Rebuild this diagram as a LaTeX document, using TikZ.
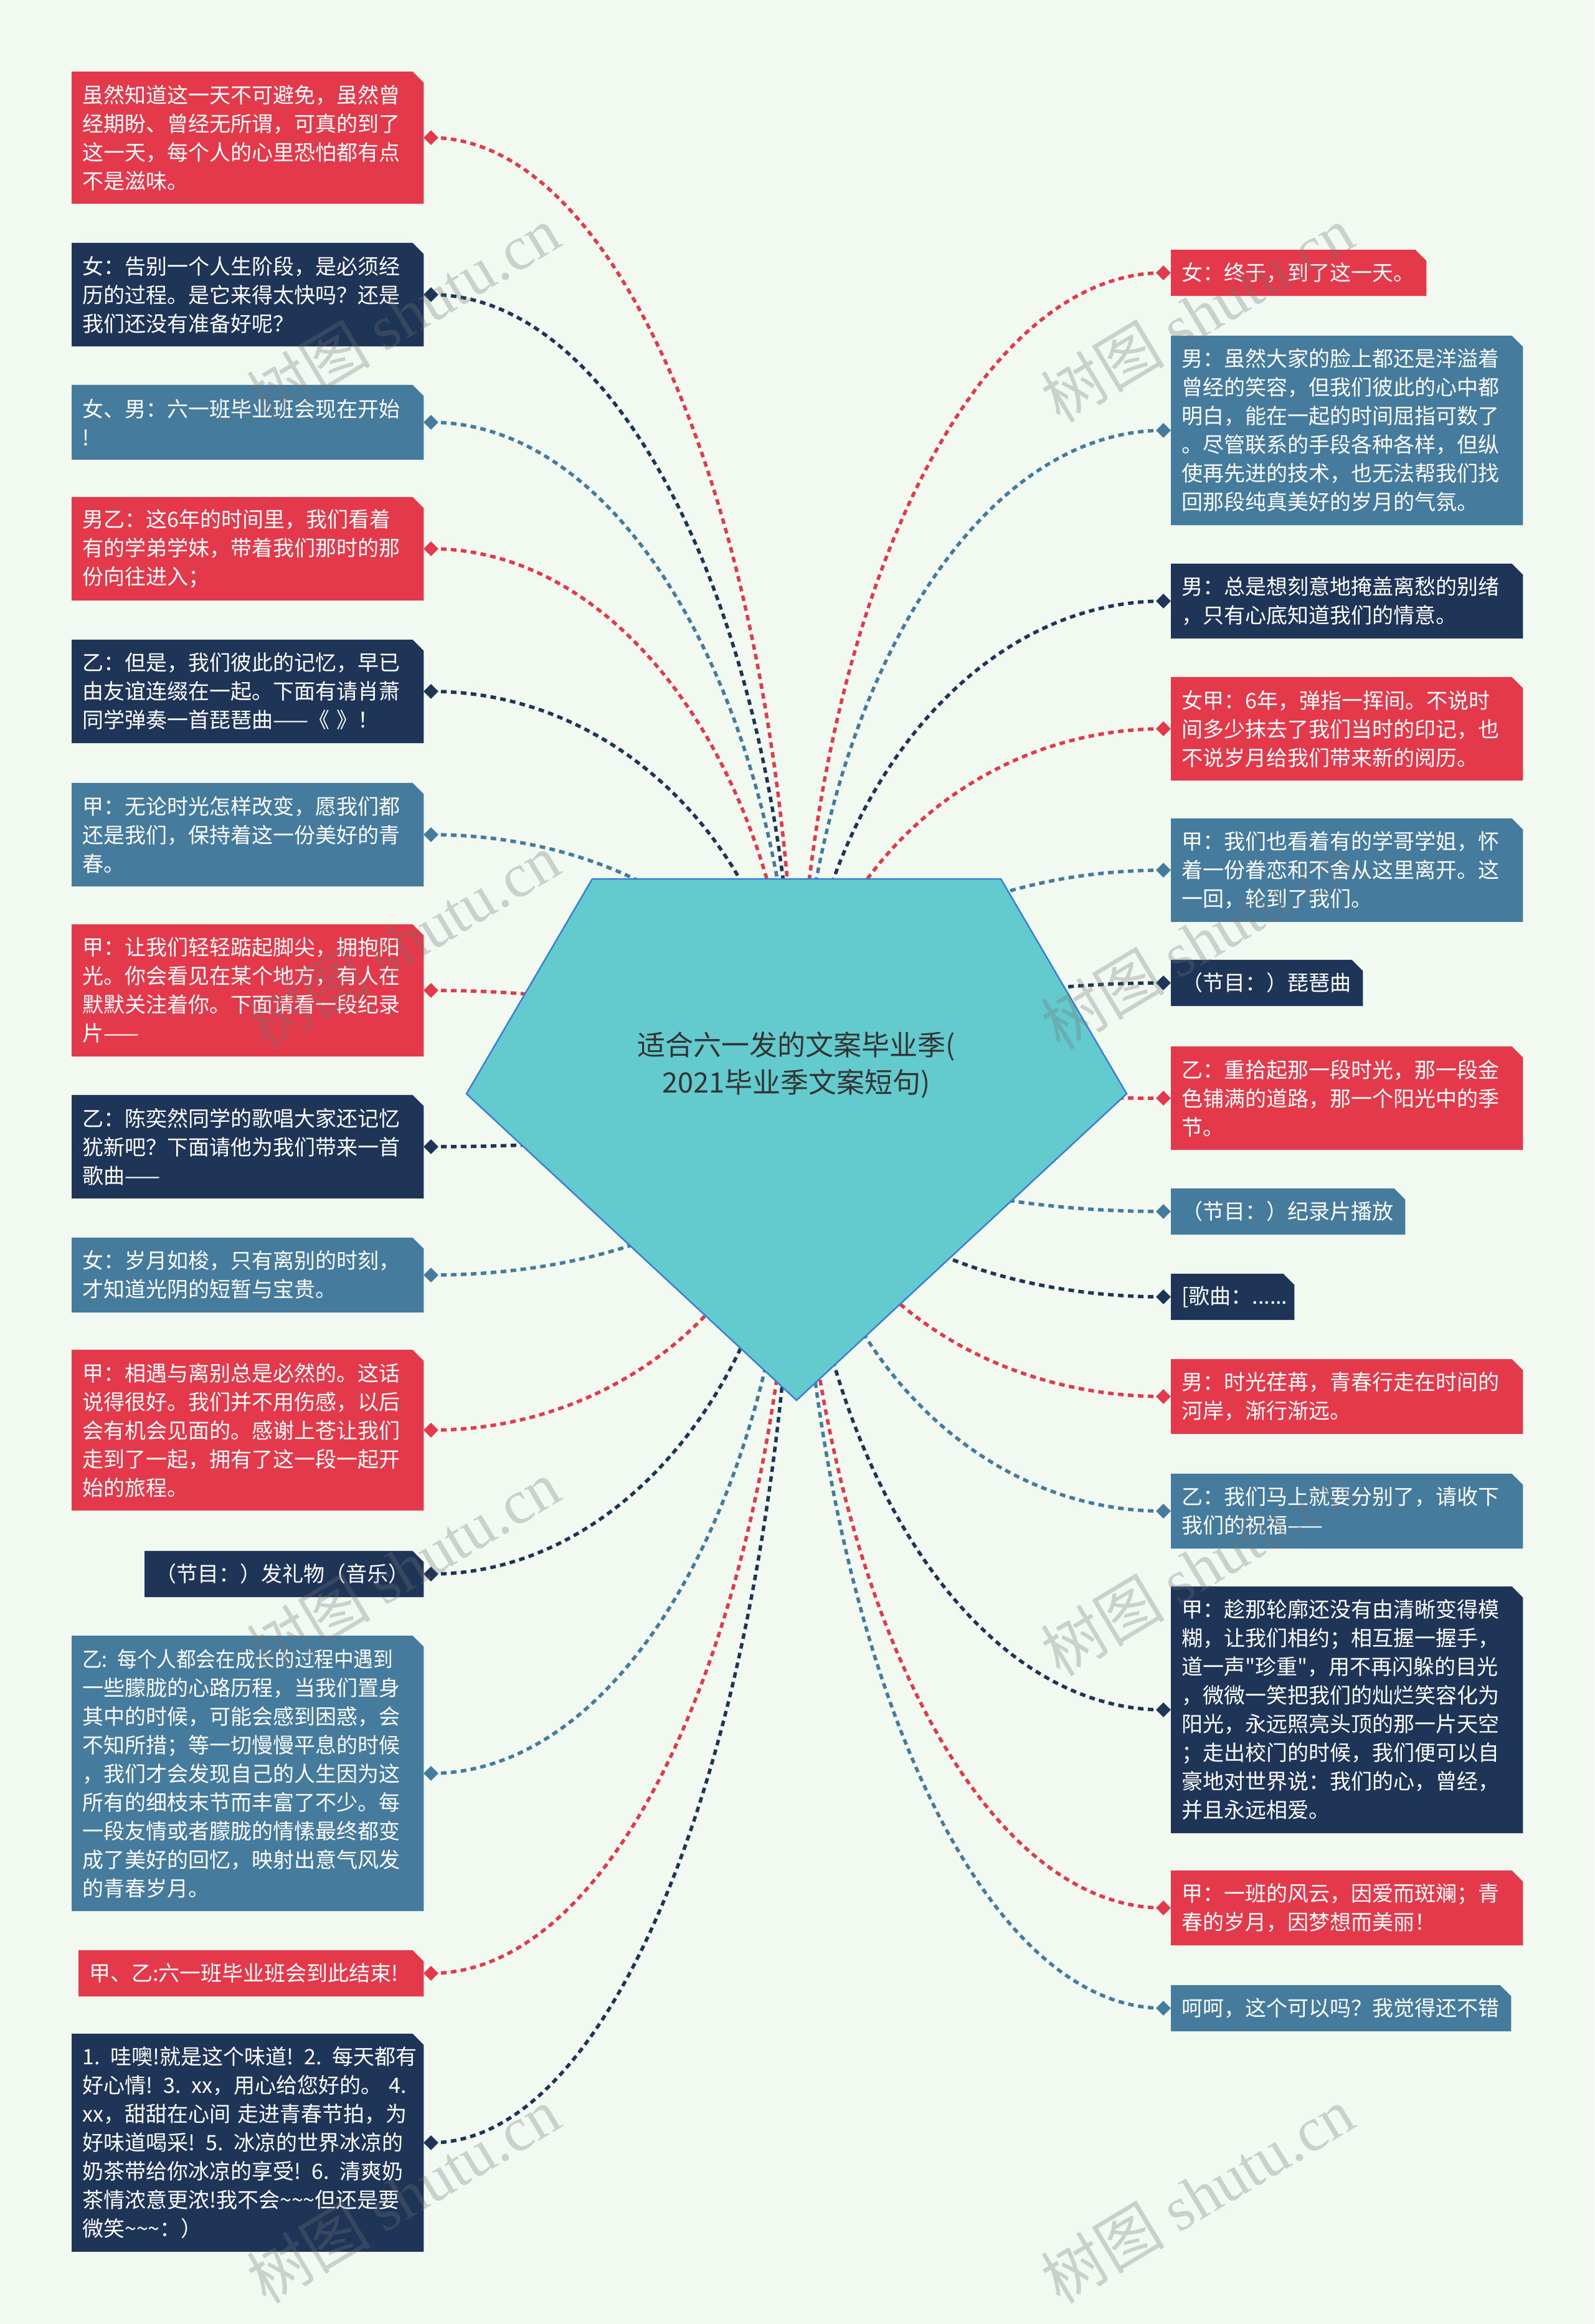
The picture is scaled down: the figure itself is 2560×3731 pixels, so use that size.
\documentclass[tikz,border=0pt]{standalone}
\usepackage{fontspec}
\setmainfont{Noto Sans CJK SC}
\newfontfamily\qfont{Noto Sans CJK SC}
\newfontfamily\wmserif{Liberation Serif}
\usepackage{graphicx}
\usetikzlibrary{shapes.geometric,calc}
\pgfdeclarelayer{bg}
\pgfdeclarelayer{boxes}
\pgfdeclarelayer{fg}
\pgfsetlayers{bg,boxes,main,fg}
\definecolor{cred}{HTML}{E4394A}
\definecolor{cnavy}{HTML}{1E3557}
\definecolor{csteel}{HTML}{457B9D}
\definecolor{cteal}{HTML}{63CACD}
\definecolor{cedge}{HTML}{3A7FD5}
\definecolor{cbg}{HTML}{F1F9F1}
\definecolor{ctitle}{HTML}{333333}
% #1 name, #2 x left, #3 center y, #4 width, #5 lines, #6 colour, #7 diamond x, #8 text
\newcommand{\tbox}[8]{%
  \node[tb, text width=\the\numexpr#4-34\relax pt, minimum height=\the\numexpr46*#5+28\relax pt, anchor=west] (#1) at (#2,#3) {#8};
  \begin{pgfonlayer}{boxes}
    \fill[#6] (#1.south west) -- (#1.north west) -- ([xshift=-18pt]#1.north east) -- ([yshift=-18pt]#1.north east) -- (#1.south east) -- cycle;
  \end{pgfonlayer}
  \node[dmd, fill=#6] (d#1) at (#7,#3) {};
}
\newcommand{\conn}[2]{%
  \coordinate (k#1) at (d#1 -| rc);
  \draw[conn, #2] (d#1.center) .. controls ($(d#1.center)!0.55!(k#1)$) and ($(rc)!0.55!(k#1)$) .. (rc);
}
\newcommand{\tld}{\textasciitilde}
\newcommand{\sq}{{\qfont"}}
\begin{document}
\begin{tikzpicture}[x=1pt,y=-1pt,
  tb/.style={inner xsep=17pt, inner ysep=0pt, align=left, text=white, font=\fontsize{34}{46}\selectfont},
  dmd/.style={diamond, inner sep=0pt, minimum width=24pt, minimum height=24pt},
  conn/.style={line width=5.5pt, dash pattern=on 9pt off 7pt},
  wm/.style={rotate=31, text=black!55, opacity=0.3, font=\fontsize{100}{100}\selectfont, inner sep=0pt},
  roottext/.style={align=center, text=ctitle, font=\fontsize{45}{60}\selectfont}
]
\begin{pgfonlayer}{bg}
\fill[cbg] (0,0) rectangle (2560,3731);
\end{pgfonlayer}
\useasboundingbox (0,0) rectangle (2560,3731);
\coordinate (rc) at (1279,1756);

% left side
\tbox{L1}{115}{221}{565}{4}{cred}{692}{虽然知道这一天不可避免，虽然曾\\经期盼、曾经无所谓，可真的到了\\这一天，每个人的心里恐怕都有点\\不是滋味。}
\tbox{L2}{115}{473}{565}{3}{cnavy}{692}{女：告别一个人生阶段，是必须经\\历的过程。是它来得太快吗？还是\\我们还没有准备好呢？}
\tbox{L3}{115}{678}{565}{2}{csteel}{692}{女、男：六一班毕业班会现在开始\\!}
\tbox{L4}{115}{881}{565}{3}{cred}{692}{男乙：这6年的时间里，我们看着\\有的学弟学妹，带着我们那时的那\\份向往进入；}
\tbox{L5}{115}{1110}{565}{3}{cnavy}{692}{乙：但是，我们彼此的记忆，早已\\由友谊连缀在一起。下面有请肖萧\\同学弹奏一首琵琶曲——《 》！}
\tbox{L6}{115}{1340}{565}{3}{csteel}{692}{甲：无论时光怎样改变，愿我们都\\还是我们，保持着这一份美好的青\\春。}
\tbox{L7}{115}{1590}{565}{4}{cred}{692}{甲：让我们轻轻踮起脚尖，拥抱阳\\光。你会看见在某个地方，有人在\\默默关注着你。下面请看一段纪录\\片——}
\tbox{L8}{115}{1841}{565}{3}{cnavy}{692}{乙：陈奕然同学的歌唱大家还记忆\\犹新吧？下面请他为我们带来一首\\歌曲——}
\tbox{L9}{115}{2047}{565}{2}{csteel}{692}{女：岁月如梭，只有离别的时刻，\\才知道光阴的短暂与宝贵。}
\tbox{L10}{115}{2296}{565}{5}{cred}{692}{甲：相遇与离别总是必然的。这话\\说得很好。我们并不用伤感，以后\\会有机会见面的。感谢上苍让我们\\走到了一起，拥有了这一段一起开\\始的旅程。}
\tbox{L11}{232}{2527}{448}{1}{cnavy}{692}{（节目：）发礼物（音乐）}
\tbox{L12}{115}{2847}{565}{9}{csteel}{692}{\scalebox{0.93}[1]{乙: 每个人都会在成长的过程中遇到}\\一些朦胧的心路历程，当我们置身\\其中的时候，可能会感到困惑，会\\不知所措；等一切慢慢平息的时候\\，我们才会发现自己的人生因为这\\所有的细枝末节而丰富了不少。每\\一段友情或者朦胧的情愫最终都变\\成了美好的回忆，映射出意气风发\\的青春岁月。}
\tbox{L13}{126}{3168}{554}{1}{cred}{692}{\mbox{甲、乙:六一班毕业班会到此结束!}}
\tbox{L14}{115}{3440}{565}{7}{cnavy}{692}{\mbox{1. 哇噢!就是这个味道! 2. 每天都有}\\\mbox{好心情! 3. xx，用心给您好的。 4.}\\\mbox{xx，甜甜在心间 走进青春节拍，为}\\\mbox{好味道喝采! 5. 冰凉的世界冰凉的}\\\mbox{奶茶带给你冰凉的享受! 6. 清爽奶}\\\mbox{茶情浓意更浓!我不会\tld\tld\tld 但还是要}\\微笑\tld\tld\tld：）}

% right side
\tbox{R1}{1880}{438}{410}{1}{cred}{1868}{女：终于，到了这一天。}
\tbox{R2}{1880}{691}{565}{6}{csteel}{1868}{男：虽然大家的脸上都还是洋溢着\\曾经的笑容，但我们彼此的心中都\\明白，能在一起的时间屈指可数了\\。尽管联系的手段各种各样，但纵\\使再先进的技术，也无法帮我们找\\回那段纯真美好的岁月的气氛。}
\tbox{R3}{1880}{965}{565}{2}{cnavy}{1868}{男：总是想刻意地掩盖离愁的别绪\\，只有心底知道我们的情意。}
\tbox{R4}{1880}{1170}{565}{3}{cred}{1868}{女甲：6年，弹指一挥间。不说时\\间多少抹去了我们当时的印记，也\\不说岁月给我们带来新的阅历。}
\tbox{R5}{1880}{1397}{565}{3}{csteel}{1868}{甲：我们也看着有的学哥学姐，怀\\着一份眷恋和不舍从这里离开。这\\一回，轮到了我们。}
\tbox{R6}{1880}{1578}{308}{1}{cnavy}{1868}{（节目：）琵琶曲}
\tbox{R7}{1880}{1763}{565}{3}{cred}{1868}{乙：重拾起那一段时光，那一段金\\色铺满的道路，那一个阳光中的季\\节。}
\tbox{R8}{1880}{1945}{376}{1}{csteel}{1868}{（节目：）纪录片播放}
\tbox{R9}{1880}{2082}{198}{1}{cnavy}{1868}{[歌曲：......}
\tbox{R10}{1880}{2242}{565}{2}{cred}{1868}{男：时光荏苒，青春行走在时间的\\河岸，渐行渐远。}
\tbox{R11}{1880}{2426}{565}{2}{csteel}{1868}{乙：我们马上就要分别了，请收下\\我们的祝福——}
\tbox{R12}{1880}{2745}{565}{8}{cnavy}{1868}{甲：趁那轮廓还没有由清晰变得模\\糊，让我们相约；相互握一握手，\\道一声\sq 珍重\sq ，用不再闪躲的目光\\，微微一笑把我们的灿烂笑容化为\\阳光，永远照亮头顶的那一片天空\\；走出校门的时候，我们便可以自\\豪地对世界说：我们的心，曾经，\\并且永远相爱。}
\tbox{R13}{1880}{3063}{565}{2}{cred}{1868}{甲：一班的风云，因爱而斑斓；青\\春的岁月，因梦想而美丽！}
\tbox{R14}{1880}{3224}{546}{1}{csteel}{1868}{呵呵，这个可以吗？我觉得还不错}

% connectors
\conn{L1}{cred}\conn{L2}{cnavy}\conn{L3}{csteel}\conn{L4}{cred}\conn{L5}{cnavy}
\conn{L6}{csteel}\conn{L7}{cred}\conn{L8}{cnavy}\conn{L9}{csteel}\conn{L10}{cred}
\conn{L11}{cnavy}\conn{L12}{csteel}\conn{L13}{cred}\conn{L14}{cnavy}
\conn{R1}{cred}\conn{R2}{csteel}\conn{R3}{cnavy}\conn{R4}{cred}\conn{R5}{csteel}
\conn{R6}{cnavy}\conn{R7}{cred}\conn{R8}{csteel}\conn{R9}{cnavy}\conn{R10}{cred}
\conn{R11}{csteel}\conn{R12}{cnavy}\conn{R13}{cred}\conn{R14}{csteel}

% central shape
\filldraw[fill=cteal, draw=cedge, line width=2.5pt, line join=miter]
  (951,1411) -- (1607,1411) -- (1809,1756) -- (1279,2248) -- (749,1756) -- cycle;
\node[roottext] (root) at (1279,1710) {适合六一发的文案毕业季(\\2021毕业季文案短句)};

% watermarks
\begin{pgfonlayer}{fg}
\node[wm] (w1) at (647,504) {树图 {\wmserif shutu.cn}};
\node[wm] (w2) at (1922,504) {树图 {\wmserif shutu.cn}};
\node[wm] (w3) at (647,1511) {树图 {\wmserif shutu.cn}};
\node[wm] (w4) at (1922,1511) {树图 {\wmserif shutu.cn}};
\node[wm] (w5) at (647,2517) {树图 {\wmserif shutu.cn}};
\node[wm] (w6) at (1922,2517) {树图 {\wmserif shutu.cn}};
\node[wm] (w7) at (647,3524) {树图 {\wmserif shutu.cn}};
\node[wm] (w8) at (1922,3524) {树图 {\wmserif shutu.cn}};
\end{pgfonlayer}
\end{tikzpicture}
\end{document}
